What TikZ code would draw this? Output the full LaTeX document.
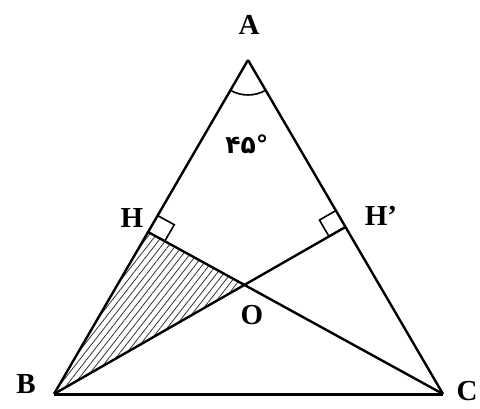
\documentclass[tikz,border=0pt]{standalone}
\usepackage{fontspec}
\setmainfont{Liberation Serif}
\newfontfamily\arabicfont[Script=Arabic]{DejaVu Sans}
\usetikzlibrary{calc,patterns.meta}
\begin{document}
\begin{tikzpicture}[x=1pt,y=1pt,
  edge/.style={line width=2.4pt,line join=round},
  thin edge/.style={line width=1.6pt},
  lbl/.style={font=\fontsize{29}{29}\selectfont\bfseries,inner sep=0pt}]
\useasboundingbox (0,0) rectangle (480,408);
\coordinate (A) at (248,348);
\coordinate (B) at (54,14);
\coordinate (C) at (443,14);
\coordinate (H) at ($(A)!0.515!(B)$);
\coordinate (Hp) at ($(A)!0.5!(C)$);
\coordinate (O) at (intersection of B--Hp and C--H);
% hatched region
\fill[pattern={Lines[angle=52,distance=5.5pt,line width=0.8pt]},pattern color=black!80] (B) -- (H) -- (O) -- cycle;
% triangle and altitudes
\draw[edge] (A) -- (B);
\draw[edge] (A) -- (C);
\draw[line width=3pt] (B) -- (C);
\draw[edge] (C) -- (H);
\draw[edge] (B) -- (Hp);
% right angle marks
\coordinate (h1) at ($(H)!19pt!(A)$);
\coordinate (h2) at ($(H)!19pt!(C)$);
\draw[thin edge] (h1) -- ($(h1)+(h2)-(H)$) -- (h2);
\coordinate (k1) at ($(Hp)!19pt!(A)$);
\coordinate (k2) at ($(Hp)!19pt!(B)$);
\draw[thin edge] (k1) -- ($(k1)+(k2)-(Hp)$) -- (k2);
% angle arc at A
\draw[thin edge] ($(A)+(239.9:35)$) arc[start angle=239.9,end angle=300.3,radius=35];
% labels
\node[lbl] (lA) at (249,383) {A};
\node[lbl] (lB) at (26,24) {B};
\node[lbl] (lC) at (467,17) {C};
\node[lbl] (lH) at (132,190) {H};
\node[lbl] (lHp) at (381,192) {H'};
\node[lbl] (lO) at (252,93) {O};
\node[inner sep=0pt] (ang) at (247,264) {\arabicfont\bfseries\fontsize{25}{25}\selectfont ۴۵°};
\end{tikzpicture}
\end{document}
